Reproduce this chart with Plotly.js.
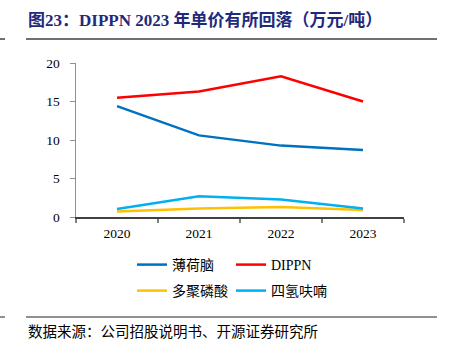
<!DOCTYPE html>
<html><head><meta charset="utf-8">
<script src="https://cdn.plot.ly/plotly-3.0.1.min.js"></script>
<style>body{margin:0;background:#fff}#c{width:449px;height:352px}</style>
</head><body><div id="c"></div>
<script>
const years = ['2020','2021','2022','2023'];
const menthol = [14.4, 10.6, 9.27, 8.7];
const dippn = [15.5, 16.3, 18.27, 15.0];
const polyPhos = [0.7, 1.09, 1.3, 0.91];
const thf = [1.04, 2.69, 2.26, 1.09];
const names = ['薄荷脑','DIPPN','多聚磷酸','四氢呋喃'];
const colors = ['#0070C0','#FF0000','#FFC000','#00B0F0'];
const series = [menthol, dippn, polyPhos, thf];
const legendIds = ['legend','legend','legend2','legend2'];
const W = 328, L = 76, T = 63, H = 154;
const px = v => (v - L) / W;
const py = v => 1 - (v - T) / H;
const traces = series.map((s,i)=>({x: years, y: s, name: names[i], legend: legendIds[i], type:'scatter', mode:'lines', line:{color: colors[i], width: 2.5}}));
const legFont = {family: '"Liberation Serif","Noto Sans CJK SC",serif', size: 14, color:'#000'};
const legBase = {orientation: 'h', xanchor: 'left', yanchor: 'middle', entrywidth: 54, entrywidthmode: 'pixels', font: legFont, itemwidth: 30, bgcolor:'rgba(0,0,0,0)'};
const layout = {
  width: 449, height: 352,
  margin: {l: 76, r: 45, t: 63, b: 135},
  paper_bgcolor: '#fff', plot_bgcolor: '#fff',
  font: {family: '"Liberation Serif","Noto Sans CJK SC",serif', size: 13.5, color: '#000'},
  showlegend: true,
  legend: Object.assign({}, legBase, {x: px(132), y: py(265)}),
  legend2: Object.assign({}, legBase, {x: px(132), y: py(291)}),
  xaxis: {type: 'category', range: [-0.5, 3.5], showline: true, linecolor: '#404040', linewidth: 1.5, ticks: 'outside', tickson: 'boundaries', ticklen: 4, tickcolor: '#808080', tickwidth: 1.5, ticklabelstandoff: 3, showgrid: false, zeroline: false},
  yaxis: {range: [0, 20], dtick: 5, showline: true, linecolor: '#909090', linewidth: 1.5, ticks: 'outside', ticklen: 5, tickcolor: '#909090', ticklabelstandoff: 7, showgrid: false, zeroline: false},
  shapes: [
    {type:'line', xref:'paper', yref:'paper', x0: px(0), x1: px(5), y0: py(39), y1: py(39), line:{color:'#404040', width:1.5}},
    {type:'line', xref:'paper', yref:'paper', x0: px(26), x1: px(437), y0: py(39), y1: py(39), line:{color:'#404040', width:1.5}},
    {type:'line', xref:'paper', yref:'paper', x0: px(0), x1: px(5), y0: py(317), y1: py(317), line:{color:'#909090', width:2}},
    {type:'line', xref:'paper', yref:'paper', x0: px(26), x1: px(437), y0: py(317), y1: py(317), line:{color:'#909090', width:2}}
  ],
  annotations: [
    {xref:'paper', yref:'paper', x: px(26), y: py(20), xanchor:'left', yanchor:'middle', showarrow:false,
     text:'<b>图23：DIPPN 2023 年单价有所回落（万元/吨）</b>', font:{family:'"Liberation Serif","Noto Sans CJK SC",serif', size:17, color:'#1F2A7C'}},
    {xref:'paper', yref:'paper', x: px(26), y: py(330), xanchor:'left', yanchor:'middle', showarrow:false,
     text:'数据来源：公司招股说明书、开源证券研究所', font:{family:'"Noto Sans CJK SC",serif', size:14.5, color:'#000'}}
  ]
};
Plotly.newPlot('c', traces, layout, {displayModeBar:false, staticPlot:true});
</script></body></html>
